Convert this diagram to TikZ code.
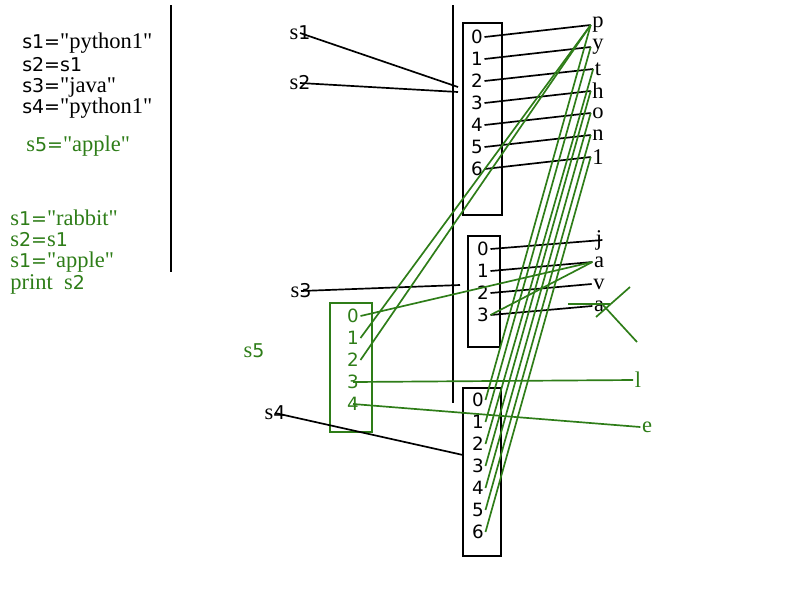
\documentclass[tikz,border=0pt]{standalone}
\usepackage{fontspec}
\setmainfont{Liberation Serif}[Ligatures=TeXOff]
\setsansfont{DejaVu Sans}[Ligatures=TeXOff]
\usetikzlibrary{positioning}

\definecolor{inkgreen}{RGB}{46,125,24}
\newcommand{\sans}[1]{{\sffamily\fontsize{13.5}{16}\selectfont #1}}
\newcommand{\sv}[1]{{\rmfamily s}\sans{#1}}

\tikzset{
  cell/.style={inner sep=1pt, font=\sffamily\fontsize{13}{15}\selectfont},
  chr/.style={inner sep=0pt, font=\rmfamily\fontsize{16}{18}\selectfont},
  var/.style={inner sep=1pt, font=\rmfamily\fontsize{16}{18}\selectfont},
  code/.style={anchor=west, inner sep=0pt, font=\rmfamily\fontsize{16}{18}\selectfont},
  ptr/.style={line width=1.2pt},
  gptr/.style={line width=1.2pt, inkgreen},
  box/.style={line width=1.3pt},
}

\begin{document}
\begin{tikzpicture}[x=0.025cm, y=-0.025cm]
\useasboundingbox (0,0) rectangle (800,600);

% the code
\node[code] (l1) at (22,43) {\sans{s1=}"python1"};
\node[code] (l2) at (22,65) {\sans{s2=s1}};
\node[code] (l3) at (22,87) {\sans{s3=}"java"};
\node[code] (l4) at (22,108) {\sans{s4=}"python1"};
\node[code, inkgreen] (l5) at (26,146) {\sv{5}\sans{=}"apple"};
\node[code, inkgreen] (g1) at (10,218) {\sv{1}\sans{=}"rabbit"};
\node[code, inkgreen] (g2) at (10,240) {\sv{2}\sans{=}\sv{1}};
\node[code, inkgreen] (g3) at (10,262) {\sv{1}\sans{=}"apple"};
\node[code, inkgreen] (g4) at (10,284) {print\ \ \sv{2}};

\draw[box] (171,5) -- (171,272);
\draw[box] (453,5) -- (453,403);

% arrays
\draw[box] (463,23) rectangle (502,215);
\draw[box] (468,236) rectangle (500,347);
\draw[box] (463,388) rectangle (501,556);
\draw[box, inkgreen] (330,303) rectangle (372,432);

\foreach \i in {0,...,6}
  \node[cell] (a\i) at (477,37+22*\i) {\i};
\foreach \i in {0,...,3}
  \node[cell] (b\i) at (483,249+22*\i) {\i};
\foreach \i in {0,...,6}
  \node[cell] (d\i) at (478,400+22*\i) {\i};
\foreach \i in {0,...,4}
  \node[cell, inkgreen] (c\i) at (353,316+22*\i) {\i};

% characters
\foreach \ch [count=\i from 0] in {p,y,t,h,o,n,1}
  \node[chr] (p\i) at (598,25+22*\i) {\ch};
\foreach \ch [count=\i from 0] in {j,a,v,a}
  \node[chr] (j\i) at (599,240+22*\i) {\ch};
\node[chr, inkgreen] (l) at (638,380) {l};
\node[chr, inkgreen] (e) at (647,427) {e};

% variables
\node[var] (s1) at (300,33) {\sv{1}};
\node[var] (s2) at (300,83) {\sv{2}};
\node[var] (s3) at (301,291) {\sv{3}};
\node[var] (s4) at (275,413) {\sv{4}};
\node[var, inkgreen] (s5) at (254,351) {\sv{5}};

\coordinate (h1) at (458,87);
\coordinate (h2) at (458,92);
\coordinate (h3) at (460,285);
\coordinate (h4) at (463,455);

\draw[ptr] (s1.center) -- (h1);
\draw[ptr] (s2.center) -- (h2);
\draw[ptr] (s3.center) -- (h3);
\draw[ptr] (s4.center) -- (h4);

\foreach \i in {0,...,6}
  \draw[ptr] (a\i.east) -- ([xshift=-1pt]p\i.west);
\draw[ptr] (b0.east) -- (j0.east);
\foreach \i in {1,2,3}
  \draw[ptr] (b\i.east) -- ([xshift=-1pt]j\i.west);

\draw[gptr] (b3.east) -- ([xshift=-1pt]j1.west);
\draw[gptr] (c0.east) -- ([xshift=-1pt]j1.west);
\draw[gptr] (c1.east) -- ([xshift=-1pt]p0.west);
\draw[gptr] (c2.east) -- ([xshift=-1pt]p0.west);
\draw[gptr] (c3.center) -- ([xshift=-1pt]l.west);
\draw[gptr] (c4.center) -- ([xshift=-1pt]e.west);
\foreach \i in {0,...,6}
  \draw[gptr] ([xshift=-1pt]p\i.west) -- (d\i.east);

% crossed out a
\draw[gptr] (568,304) -- (610,304);
\draw[gptr] (630,287) -- (596,317);
\draw[gptr] (603,305) -- (637,342);
\end{tikzpicture}
\end{document}
